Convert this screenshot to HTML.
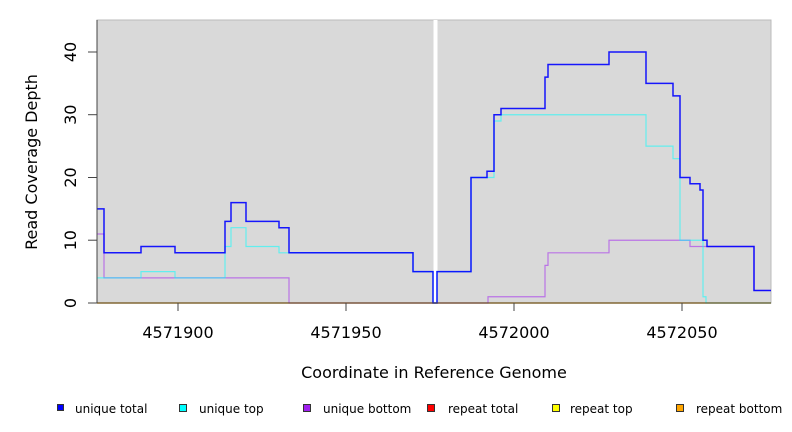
<!DOCTYPE html>
<html><head><meta charset="utf-8"><style>
html,body{margin:0;padding:0;background:#fff;width:792px;height:432px;overflow:hidden}
svg{display:block;font-family:"DejaVu Sans","Liberation Sans",sans-serif}
</style></head><body>
<svg id="s" width="792" height="432" viewBox="0 0 792 432" xmlns="http://www.w3.org/2000/svg">
<rect x="97" y="20" width="674" height="283" fill="#d9d9d9" stroke="#bbb" stroke-width="1"/>
<rect x="433.5" y="20" width="4" height="283" fill="#fff"/>
<g id="lines" fill="none"></g>
<line x1="97" y1="20" x2="97" y2="303" stroke="#444" stroke-width="1"/>
<line x1="97" y1="303" x2="771" y2="303" stroke="#444" stroke-width="1"/>
<g stroke="#444" stroke-width="1">
<line x1="88" y1="303" x2="97" y2="303"/><line x1="88" y1="240.2" x2="97" y2="240.2"/>
<line x1="88" y1="177.5" x2="97" y2="177.5"/><line x1="88" y1="114.7" x2="97" y2="114.7"/>
<line x1="88" y1="52" x2="97" y2="52"/>
<line x1="178" y1="303" x2="178" y2="311"/><line x1="346" y1="303" x2="346" y2="311"/>
<line x1="514" y1="303" x2="514" y2="311"/><line x1="682" y1="303" x2="682" y2="311"/>
</g>
<g font-size="16" fill="#000" text-anchor="middle">
<text transform="translate(76,303) rotate(-90)">0</text>
<text transform="translate(76,240.2) rotate(-90)">10</text>
<text transform="translate(76,177.5) rotate(-90)">20</text>
<text transform="translate(76,114.7) rotate(-90)">30</text>
<text transform="translate(76,52) rotate(-90)">40</text>
<text x="178" y="338">4571900</text><text x="346" y="338">4571950</text>
<text x="514" y="338">4572000</text><text x="682" y="338">4572050</text>
<text x="434" y="378">Coordinate in Reference Genome</text>
<text transform="translate(37,162) rotate(-90)">Read Coverage Depth</text>
</g>
<g font-size="12" fill="#000">
<rect x="57.5" y="404.5" width="6" height="6" fill="#0000ff" stroke="#333"/><text x="75" y="413">unique total</text>
<rect x="179.5" y="404.5" width="7" height="7" fill="#00ffff" stroke="#333"/><text x="199" y="413">unique top</text>
<rect x="303.5" y="404.5" width="7" height="7" fill="#a020f0" stroke="#333"/><text x="323" y="413">unique bottom</text>
<rect x="427.5" y="404.5" width="7" height="7" fill="#ff0000" stroke="#333"/><text x="448" y="413">repeat total</text>
<rect x="552.5" y="404.5" width="7" height="7" fill="#ffff00" stroke="#333"/><text x="570" y="413">repeat top</text>
<rect x="676.5" y="404.5" width="7" height="7" fill="#ffa500" stroke="#333"/><text x="696" y="413">repeat bottom</text>
</g>
</svg>
<script>
function y(v){return 303-6.275*v;}
function path(steps,end){var d="M"+steps[0][0]+" "+y(steps[0][1]);
for(var i=1;i<steps.length;i++){var x=steps[i][0];d+=" H"+x+" V"+y(steps[i][1]);}
d+=" H"+end;return d;}
var g=document.getElementById("lines");
function add(d,c,w,o){var p=document.createElementNS("http://www.w3.org/2000/svg","path");p.setAttribute("d",d);p.setAttribute("stroke",c);p.setAttribute("stroke-width",w);p.setAttribute("stroke-opacity",o);g.appendChild(p);}
add("M97 303 H771","#ffa500",1.5,0.9);
var pur=[[97,11],[104,4],[289,0],[488,1],[545,6],[548,8],[609,10],[690,9],[707,9],[754,2]];
var cy=[[97,4],[141,5],[175,4],[225,9],[231,12],[246,9],[279,8],[289,8],[413,5],[433,0],[437,5],[471,20],[487,20],[494,29],[501,30],[646,25],[673,23],[680,10],[703,1],[706,0]];
var bl=[[97,15],[104,8],[141,9],[175,8],[225,13],[231,16],[246,13],[279,12],[289,8],[413,5],[433,0],[437,5],[471,20],[487,21],[494,30],[501,31],[545,36],[548,38],[609,40],[646,35],[673,33],[680,20],[690,19],[700,18],[703,10],[707,9],[754,2]];
add(path(pur,771),"#a020f0",1.2,0.55);
add(path(cy,771),"#00ffff",1.2,0.55);
add(path(bl,771),"#0000ff",1.5,0.9);
</script>
</body></html>
